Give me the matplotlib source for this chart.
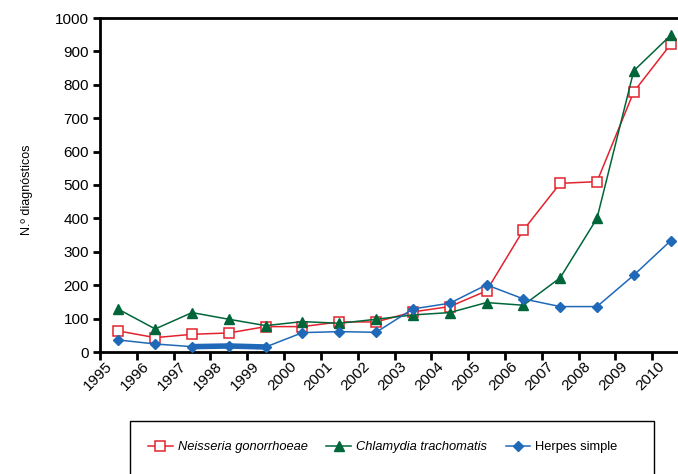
import matplotlib
matplotlib.use("Agg")
import matplotlib.pyplot as plt
from matplotlib.patches import Rectangle
from matplotlib.ticker import FixedLocator, NullFormatter, FixedFormatter
from matplotlib.transforms import ScaledTranslation

plt.rcParams['font.family'] = ['Liberation Sans', 'DejaVu Sans']

years = ['1995', '1996', '1997', '1998', '1999', '2000', '2001', '2002',
         '2003', '2004', '2005', '2006', '2007', '2008', '2009', '2010']
neisseria = [63, 43, 53, 57, 76, 76, 90, 90, 120, 136, 183, 365, 505, 510, 779, 921]
chlamydia = [128, 69, 118, 98, 79, 91, 86, 98, 111, 118, 148, 140, 222, 400, 842, 948]
herpes = [36, 24, 16, 18, 15, 58, 61, 59, 129, 146, 201, 159, 136, 136, 230, 333]
herpes_thick = slice(2, 5)  # segment drawn with a heavier line in the original

labels = ['Neisseria gonorrhoeae', 'Chlamydia trachomatis', 'Herpes simple']
yticks = [0, 100, 200, 300, 400, 500, 600, 700, 800, 900, 1000]

red = '#E2232E'
green = '#00663A'
blue = '#2068B8'

W, H = 678, 474
fig = plt.figure(figsize=(W / 100, H / 100), dpi=100)
ax = fig.add_axes([100 / W, (H - 352) / H, 589 / W, (352 - 18) / H])

x = list(range(len(years)))
ax.plot(x, neisseria, color=red, lw=1.1, marker='s', ms=6.5, mfc='white',
        mec=red, mew=1.1, label=labels[0], zorder=3)
ax.plot(x, chlamydia, color=green, lw=1.1, marker='^', ms=7.5, mfc=green,
        mec=green, label=labels[1], zorder=3)
ax.plot(x, herpes, color=blue, lw=1.1, marker='D', ms=5.5, mfc=blue,
        mec=blue, label=labels[2], zorder=4)
ax.plot(x[herpes_thick], herpes[herpes_thick], color=blue, lw=4,
        solid_capstyle='round', zorder=4)

ax.set_xlim(-0.5, len(years) - 0.5)
ax.set_ylim(0, 1000)
ax.set_yticks(yticks)
ax.set_yticklabels([str(v) for v in yticks], fontsize=11)

ax.xaxis.set_major_locator(FixedLocator([i - 0.5 for i in range(len(years) + 1)]))
ax.xaxis.set_major_formatter(NullFormatter())
ax.xaxis.set_minor_locator(FixedLocator(x))
ax.xaxis.set_minor_formatter(FixedFormatter(years))
ax.tick_params(axis='x', which='major', direction='out', length=6, width=2)
ax.tick_params(axis='x', which='minor', length=0, pad=9, labelsize=11)
ax.tick_params(axis='y', direction='out', length=5, width=2, pad=3)
shift = ScaledTranslation(-6 / 72, 0, fig.dpi_scale_trans)
for lab in ax.get_xticklabels(minor=True):
    lab.set_rotation(45)
    lab.set_ha('right')
    lab.set_va('center')
    lab.set_rotation_mode('anchor')
    lab.set_transform(lab.get_transform() + shift)

for s in ax.spines.values():
    s.set_linewidth(2)
    s.set_color('black')

fig.text(27 / W, (H - 190) / H, 'N.º diagnósticos', rotation=90,
         ha='center', va='center', fontsize=9)

# legend box (frame drawn separately so its right margin matches the original)
fig.add_artist(Rectangle((130 / W, -0.02), 524 / W, (H - 421) / H + 0.02,
                         transform=fig.transFigure, fill=False,
                         edgecolor='black', linewidth=1.0))
leg = fig.legend(loc='center left', bbox_to_anchor=(148 / W, (H - 447) / H),
                 ncol=3, fontsize=9.3, frameon=False,
                 handlelength=1.9, handletextpad=0.4,
                 borderpad=0, borderaxespad=0, columnspacing=1.45)
for t in leg.get_texts()[:2]:
    t.set_style('italic')

fig.savefig('out.png', dpi=100)
